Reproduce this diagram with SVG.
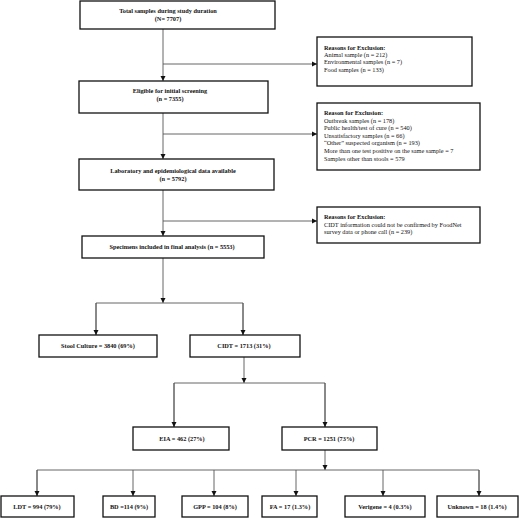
<svg xmlns="http://www.w3.org/2000/svg" width="520" height="519" viewBox="0 0 520 519">
<style>
.box{fill:#fff;stroke:#111;stroke-width:1.3}
.t{font-family:"Liberation Serif","Times New Roman",serif;font-size:6.3px;fill:#111}
.b{font-weight:bold;text-anchor:middle}
.ln{fill:none;stroke:#555;stroke-width:0.9}
</style>
<defs>
<marker id="ah" markerWidth="6" markerHeight="6" refX="5" refY="3" orient="auto" markerUnits="userSpaceOnUse">
<path d="M0,0.5 L5,3 L0,5.5 Z" fill="#111"/>
</marker>
</defs>
<rect width="520" height="519" fill="#fff"/>
<g id="connectors">
<path class="ln" d="M163,29 V81" marker-end="url(#ah)"/>
<path class="ln" d="M163,64 H317" marker-end="url(#ah)"/>
<path class="ln" d="M163,113 V159" marker-end="url(#ah)"/>
<path class="ln" d="M163,134 H317" marker-end="url(#ah)"/>
<path class="ln" d="M163,190 V236" marker-end="url(#ah)"/>
<path class="ln" d="M163,221 H317" marker-end="url(#ah)"/>
<path class="ln" d="M163,258 V303" marker-end="url(#ah)"/>
<path class="ln" d="M96,335 V303 H243 V335"/>
<path class="ln" d="M96,303 V335" marker-end="url(#ah)"/>
<path class="ln" d="M243,303 V335" marker-end="url(#ah)"/>
<path class="ln" d="M244,357 V383" marker-end="url(#ah)"/>
<path class="ln" d="M174,427 V383 H325 V427"/>
<path class="ln" d="M174,383 V427" marker-end="url(#ah)"/>
<path class="ln" d="M325,383 V427" marker-end="url(#ah)"/>
<path class="ln" d="M325,450 V470" marker-end="url(#ah)"/>
<path class="ln" d="M37,496 V470 H479 V496"/>
<path class="ln" d="M37,470 V496" marker-end="url(#ah)"/>
<path class="ln" d="M133,470 V496" marker-end="url(#ah)"/>
<path class="ln" d="M214,470 V496" marker-end="url(#ah)"/>
<path class="ln" d="M296,470 V496" marker-end="url(#ah)"/>
<path class="ln" d="M383,470 V496" marker-end="url(#ah)"/>
<path class="ln" d="M479,470 V496" marker-end="url(#ah)"/>
</g>
<g id="total"><rect class="box" x="80" y="1" width="195" height="28"/>
<text class="t b" x="168" y="13">Total samples during study duration</text>
<text class="t b" x="168" y="21">(N= 7707)</text></g>
<g id="excl1"><rect class="box" x="317" y="37" width="155" height="49"/>
<text class="t" x="324" y="50"><tspan font-weight="bold">Reasons for Exclusion:</tspan><tspan x="324" dy="7.2">Animal sample (n = 212)</tspan><tspan x="324" dy="7.2">Environmental samples (n = 7)</tspan><tspan x="324" dy="7.2">Food samples (n = 133)</tspan></text></g>
<g id="eligible"><rect class="box" x="79" y="81" width="189" height="32"/>
<text class="t b" x="170" y="93">Eligible for initial screening</text>
<text class="t b" x="170" y="101">(n = 7355)</text></g>
<g id="excl2"><rect class="box" x="317" y="103" width="163" height="67"/>
<text class="t" x="324" y="115"><tspan font-weight="bold">Reason for Exclusion:</tspan><tspan x="324" dy="7.6">Outbreak samples (n = 178)</tspan><tspan x="324" dy="7.6">Public health/test of cure (n = 540)</tspan><tspan x="324" dy="7.6">Unsatisfactory samples (n = 66)</tspan><tspan x="324" dy="7.6">“Other” suspected organism (n = 193)</tspan><tspan x="324" dy="7.6">More than one test positive on the same sample = 7</tspan><tspan x="324" dy="7.6">Samples other than stools = 579</tspan></text></g>
<g id="lab"><rect class="box" x="79" y="159" width="195" height="31"/>
<text class="t b" x="173" y="173">Laboratory and epidemiological data available</text>
<text class="t b" x="173" y="181">(n = 5792)</text></g>
<g id="excl3"><rect class="box" x="317" y="207" width="163" height="36"/>
<text class="t" x="324" y="219"><tspan font-weight="bold">Reasons for Exclusion:</tspan><tspan x="324" dy="7.6">CIDT information could not be confirmed by FoodNet</tspan><tspan x="324" dy="7.6">survey data or phone call (n = 239)</tspan></text></g>
<g id="specimens"><rect class="box" x="82" y="236" width="182" height="22"/>
<text class="t b" x="172" y="249">Specimens included in final analysis (n = 5553)</text></g>
<g id="stool"><rect class="box" x="39" y="335" width="118" height="22"/>
<text class="t b" x="98" y="348">Stool Culture = 3840 (69%)</text></g>
<g id="cidt"><rect class="box" x="190" y="335" width="110" height="22"/>
<text class="t b" x="244" y="348">CIDT = 1713 (31%)</text></g>
<g id="eia"><rect class="box" x="133" y="427" width="96" height="23"/>
<text class="t b" x="182" y="441">EIA = 462 (27%)</text></g>
<g id="pcr"><rect class="box" x="282" y="427" width="95" height="23"/>
<text class="t b" x="329" y="441">PCR = 1251 (73%)</text></g>
<g id="ldt"><rect class="box" x="1" y="496" width="73" height="21"/>
<text class="t b" x="37" y="509">LDT = 994 (79%)</text></g>
<g id="bd"><rect class="box" x="103" y="496" width="52" height="21"/>
<text class="t b" x="129" y="509">BD =114 (9%)</text></g>
<g id="gpp"><rect class="box" x="182" y="496" width="66" height="21"/>
<text class="t b" x="215" y="509">GPP = 104 (8%)</text></g>
<g id="fa"><rect class="box" x="262" y="496" width="55" height="21"/>
<text class="t b" x="290" y="509">FA = 17 (1.3%)</text></g>
<g id="verigene"><rect class="box" x="345" y="496" width="80" height="21"/>
<text class="t b" x="385" y="509">Verigene = 4 (0.3%)</text></g>
<g id="unknown"><rect class="box" x="437" y="496" width="81" height="21"/>
<text class="t b" x="477" y="509">Unknown = 18 (1.4%)</text></g>
</svg>
